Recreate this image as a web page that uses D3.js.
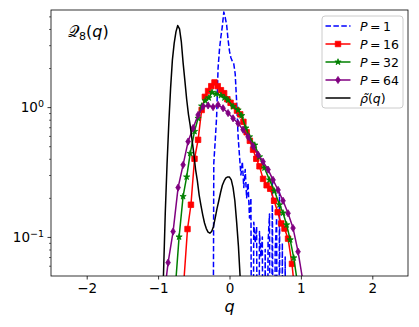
<!DOCTYPE html>
<html>
<head>
<meta charset="utf-8">
<script src="https://cdn.jsdelivr.net/npm/d3@7"></script>
<style>
body { margin: 0; background: #fff; }
svg { font-family: "DejaVu Sans", sans-serif; }
</style>
</head>
<body>
<svg id="chart" width="419" height="327"></svg>
<script>
// P = 1, dashed blue (0 means empty bin)
const qP1 = [-0.30, -0.28, -0.26, -0.24, -0.22, -0.20, -0.18, -0.16, -0.14, -0.12, -0.10, -0.08, -0.06, -0.04, -0.02,
    0.00, 0.02, 0.04, 0.06, 0.08, 0.10, 0.12, 0.14, 0.16, 0.18, 0.20, 0.22, 0.24, 0.26, 0.28, 0.30, 0.32, 0.34, 0.36,
    0.38, 0.40, 0.42, 0.44, 0.46, 0.48, 0.50, 0.52, 0.54, 0.56, 0.58, 0.60, 0.62, 0.64, 0.66, 0.68, 0.70, 0.72, 0.74,
    0.76, 0.78, 0.80];
const valP1 = [0, 0, 0, 0, 0.37, 0.55, 0.85, 2.0, 2.8, 3.5, 4.2, 5.4, 4.9, 4.3, 3.3,
    2.7, 2.4, 2.25, 2.15, 1.8, 1.1, 0.6, 0.42, 0.30, 0.38, 0.24, 0.33, 0.20, 0.26, 0.14, 0.20, 0, 0.13, 0.09,
    0.12, 0, 0.11, 0.07, 0.10, 0, 0.08, 0, 0.09, 0.15, 0, 0.27, 0, 0.08, 0.14, 0, 0.22, 0, 0.09,
    0, 0.07, 0];

// P = 16, red squares
const qP16 = [-0.64, -0.588, -0.54, -0.49, -0.44, -0.39, -0.345, -0.30, -0.255, -0.21, -0.165, -0.12, -0.075, -0.03,
    0.015, 0.06, 0.105, 0.15, 0.195, 0.24, 0.285, 0.33, 0.375, 0.42, 0.47, 0.52, 0.57, 0.625, 0.675, 0.725, 0.77,
    0.82, 0.875, 0.92];
const valP16 = [0.045, 0.115, 0.177, 0.40, 0.56, 0.95, 1.20, 1.33, 1.45, 1.55, 1.45, 1.35, 1.28, 1.15,
    1.08, 1.02, 0.94, 0.88, 0.77, 0.64, 0.55, 0.47, 0.40, 0.35, 0.28, 0.25, 0.235, 0.19, 0.155, 0.127, 0.116,
    0.097, 0.062, 0.035];

// P = 32, green stars
const qP32 = [-0.76, -0.706, -0.65, -0.60, -0.55, -0.49, -0.44, -0.39, -0.34, -0.29, -0.245, -0.19, -0.12, -0.07,
    -0.02, 0.05, 0.12, 0.17, 0.228, 0.28, 0.354, 0.42, 0.49, 0.56, 0.63, 0.70, 0.75, 0.80, 0.85, 0.90, 0.95];
const valP32 = [0.04, 0.100, 0.205, 0.29, 0.44, 0.65, 0.82, 1.02, 1.12, 1.18, 1.30, 1.26, 1.23, 1.18,
    1.13, 1.01, 0.95, 0.86, 0.69, 0.59, 0.51, 0.414, 0.34, 0.275, 0.226, 0.177, 0.153, 0.124, 0.095, 0.069, 0.045];

// P = 64, purple thin diamonds
const qP64 = [-0.93, -0.86, -0.79, -0.72, -0.65, -0.58, -0.51, -0.44, -0.37, -0.30, -0.23, -0.16, -0.09, -0.02,
    0.05, 0.12, 0.19, 0.26, 0.33, 0.40, 0.47, 0.54, 0.61, 0.68, 0.75, 0.82, 0.89, 0.96, 1.03];
const valP64 = [0.03, 0.0634, 0.110, 0.24, 0.359, 0.543, 0.69, 0.87, 1.01, 1.03, 1.0, 1.04, 0.98, 0.90,
    0.82, 0.75, 0.67, 0.59, 0.50, 0.43, 0.38, 0.33, 0.275, 0.23, 0.19, 0.152, 0.117, 0.077, 0.045];

// rho tilde, black solid
const qRho = [-0.95, -0.925, -0.90, -0.875, -0.85, -0.825, -0.80, -0.775, -0.75, -0.725, -0.70, -0.675, -0.65,
    -0.625, -0.60, -0.575, -0.55, -0.525, -0.50, -0.475, -0.45, -0.425, -0.40, -0.375, -0.35, -0.325, -0.30,
    -0.275, -0.25, -0.225, -0.20, -0.175, -0.15, -0.125, -0.10, -0.075, -0.05, -0.025, 0.0, 0.025, 0.05, 0.075,
    0.10, 0.125, 0.15, 0.175];
const valRho = [0.02, 0.05, 0.15, 0.36, 0.75, 1.4, 2.3, 3.1, 3.8, 4.25, 4.0, 3.2, 2.2,
    1.6, 1.15, 0.88, 0.72, 0.56, 0.44, 0.33, 0.27, 0.21, 0.175, 0.148, 0.128, 0.116, 0.109,
    0.107, 0.11, 0.12, 0.14, 0.165, 0.19, 0.22, 0.25, 0.27, 0.285, 0.29, 0.289, 0.275, 0.24, 0.19,
    0.13, 0.085, 0.048, 0.02];

const xTicks = [-2, -1, 0, 1, 2];
const yMajor = [0.1, 1];
const yMajorExp = ["\u22121", "0"];
const yMinor = [0.06, 0.07, 0.08, 0.09, 0.2, 0.3, 0.4, 0.5, 0.6, 0.7, 0.8, 0.9, 2, 3, 4, 5];

const legendLabels = ["P", "P", "P", "P", "rho"];
const legendValues = ["1", "16", "32", "64", ""];

let svg = d3.select("#chart");
let margin = {top: 10, right: 11, bottom: 51, left: 51};
let width = +svg.attr("width") - margin.left - margin.right;
let height = +svg.attr("height") - margin.top - margin.bottom;

let x_scale = d3.scaleLinear().domain([-2.5, 2.5]).range([0, width]);
let y_scale = d3.scaleLog().domain([0.05, 5.6]).range([height, 0]);

let g = svg.append("g")
    .attr("transform", `translate(${margin.left},${margin.top})`);

g.append("clipPath").attr("id", "plot-clip")
    .append("rect").attr("width", width).attr("height", height);

let zip = (qs, vs) => qs.map((q, i) => [q, vs[i]]);
let line = d3.line()
    .x(d => x_scale(d[0]))
    .y(d => y_scale(Math.max(d[1], 1e-4)));

let series = [
    {data: zip(qP1, valP1), color: "blue", dash: "5.5,2.4", marker: null},
    {data: zip(qP16, valP16), color: "red", dash: null, marker: "square"},
    {data: zip(qP32, valP32), color: "green", dash: null, marker: "star"},
    {data: zip(qP64, valP64), color: "purple", dash: null, marker: "diamond"},
    {data: zip(qRho, valRho), color: "black", dash: null, marker: null},
];

function markerPath(kind) {
    if (kind === "square") return d3.symbol(d3.symbolSquare, 30)();
    if (kind === "star") return d3.symbol(d3.symbolStar, 12)();
    if (kind === "diamond") return "M0,-3.6L2.3,0L0,3.6L-2.3,0Z";
    return null;
}

let plot = g.append("g").attr("clip-path", "url(#plot-clip)");

series.forEach(s => {
    plot.append("path")
        .datum(s.data)
        .attr("fill", "none")
        .attr("stroke", s.color)
        .attr("stroke-width", 1.5)
        .attr("stroke-dasharray", s.dash)
        .attr("stroke-linejoin", "round")
        .attr("d", line);
    if (s.marker) {
        plot.selectAll(null)
            .data(s.data)
            .enter().append("path")
            .attr("transform", d => `translate(${x_scale(d[0])},${y_scale(d[1])})`)
            .attr("d", markerPath(s.marker))
            .attr("fill", s.color)
            .attr("stroke", s.color)
            .attr("stroke-width", 0.8);
    }
});

// frame
g.append("rect")
    .attr("width", width)
    .attr("height", height)
    .attr("fill", "none")
    .attr("stroke", "black")
    .attr("stroke-width", 0.8);

// x axis
g.append("g")
    .attr("transform", `translate(0,${height})`)
    .call(d3.axisBottom(x_scale).tickValues(xTicks).tickSize(3.5).tickPadding(4).tickFormat(d3.format("d")))
    .call(a => a.select(".domain").remove())
    .call(a => a.selectAll(".tick line").attr("stroke-width", 0.8))
    .call(a => a.selectAll(".tick text")
        .attr("font-family", "DejaVu Sans")
        .attr("font-size", "13.5px")
        .attr("fill", "black"));

// y axis, minor ticks
g.append("g")
    .call(d3.axisLeft(y_scale).tickValues(yMinor).tickSize(2).tickFormat(""))
    .call(a => a.select(".domain").remove())
    .call(a => a.selectAll(".tick line").attr("stroke-width", 0.6));

// y axis, major ticks
let yAxis = g.append("g")
    .call(d3.axisLeft(y_scale).tickValues(yMajor).tickSize(3.5).tickFormat(""))
    .call(a => a.select(".domain").remove())
    .call(a => a.selectAll(".tick line").attr("stroke-width", 0.8));

yMajor.forEach((v, i) => {
    let t = g.append("text")
        .attr("x", -7)
        .attr("y", y_scale(v))
        .attr("dy", "0.36em")
        .attr("text-anchor", "end")
        .attr("font-size", "13.5px")
        .attr("fill", "black");
    t.append("tspan").text("10");
    t.append("tspan").attr("dy", "-0.5em").attr("font-size", "9.5px").text(yMajorExp[i]);
});

// x label
g.append("text")
    .attr("x", width / 2)
    .attr("y", height + 36)
    .attr("text-anchor", "middle")
    .attr("font-size", "16px")
    .attr("font-style", "italic")
    .text("q");

// panel title
let title = g.append("text")
    .attr("x", 17)
    .attr("y", 27)
    .attr("font-size", "16px");
title.append("tspan").text("\u{1D4AC}");
title.append("tspan").attr("font-size", "11px").attr("dy", "3").text("8");
title.append("tspan").attr("dy", "-3").text("(");
title.append("tspan").attr("font-style", "italic").text("q");
title.append("tspan").text(")");

// legend
let legend = svg.append("g").attr("transform", "translate(322,16)");
legend.append("rect")
    .attr("width", 81)
    .attr("height", 92)
    .attr("rx", 3)
    .attr("fill", "white")
    .attr("fill-opacity", 0.8)
    .attr("stroke", "#cccccc")
    .attr("stroke-width", 1);

series.forEach((s, i) => {
    let ry = 10 + i * 18;
    legend.append("line")
        .attr("x1", 3.5).attr("x2", 28.5)
        .attr("y1", ry).attr("y2", ry)
        .attr("stroke", s.color)
        .attr("stroke-width", 1.5)
        .attr("stroke-dasharray", s.dash);
    if (s.marker) {
        legend.append("path")
            .attr("transform", `translate(16,${ry})`)
            .attr("d", markerPath(s.marker))
            .attr("fill", s.color)
            .attr("stroke", s.color)
            .attr("stroke-width", 0.8);
    }
    let t = legend.append("text")
        .attr("x", 38)
        .attr("y", ry)
        .attr("dy", "0.36em")
        .attr("font-size", "12.5px");
    if (legendLabels[i] === "P") {
        t.append("tspan").attr("font-style", "italic").text("P");
        t.append("tspan").text("\u2009=\u2009" + legendValues[i]);
    } else {
        t.append("tspan").attr("font-style", "italic").text("\u03C1\u0303");
        t.append("tspan").text("(");
        t.append("tspan").attr("font-style", "italic").text("q");
        t.append("tspan").text(")");
    }
});
</script>
</body>
</html>
